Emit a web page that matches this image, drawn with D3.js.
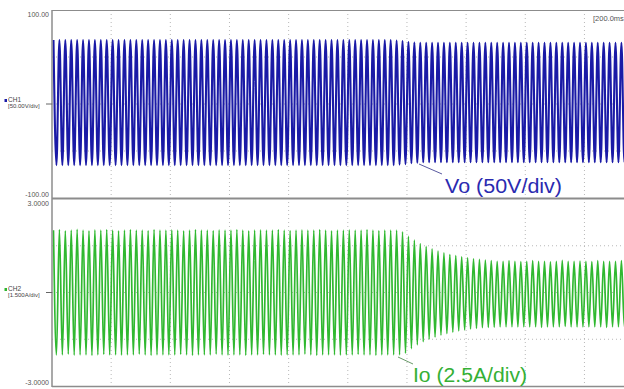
<!DOCTYPE html>
<html><head><meta charset="utf-8">
<script src="https://cdn.jsdelivr.net/npm/d3@7/dist/d3.min.js"></script>
<style>body{margin:0;background:#fff}svg{display:block;font-family:"Liberation Sans",Arial,sans-serif}</style>
</head><body><svg id="c" width="624" height="389"></svg>
<script>
// time axis: 200 ms / div, 10 divisions
const timeTicks = [0,200,400,600,800,1000,1200,1400,1600,1800,2000];
const timeLabel = "[200.0ms";
const periodMs = 20; // 50 Hz
const ch1Labels = ["100.00","-100.00"];
const ch2Labels = ["3.0000","-3.0000"];
const ch1Grid = [-50,0,50];
const ch2Grid = [-1.5,0,1.5];

// Vo peaks per cycle (V)
const voPos = [
68,68,68,68,68,68,68,68,68,68,
68,68,68,68,68,68,68,68,68,68,
68,68,68,68,68,68,68,68,68,68,
68,68,68,68,68,68,68,68,68,68,
68,68,68,68,68,68,68,68,68,68,
68,68,68,68,68,68,68,68,67.5,67,
66,65.5,65,65,65,65,65,65,65,65,
65,65,65,65,65,65,65,65,65,65,
65,65,65,65,65,65,65,65,65,65,
65,65,65,65,65,65,65,65,65,65];
const voNeg = [
-65,-65,-65,-65,-65,-65,-65,-65,-65,-65,
-65,-65,-65,-65,-65,-65,-65,-65,-65,-65,
-65,-65,-65,-65,-65,-65,-65,-65,-65,-65,
-65,-65,-65,-65,-65,-65,-65,-65,-65,-65,
-65,-65,-65,-65,-65,-65,-65,-65,-65,-65,
-65,-65,-65,-65,-65,-65,-65,-65,-64.5,-64,
-63,-62.5,-62,-62,-62,-62,-62,-62,-62,-62,
-62,-62,-62,-62,-62,-62,-62,-62,-62,-62,
-62,-62,-62,-62,-62,-62,-62,-62,-62,-62,
-62,-62,-62,-62,-62,-62,-62,-62,-62,-62];
// Io peaks per cycle (A, display scale)
const ioPos = [
2.0,2.02,1.98,2.0,2.03,2.0,1.98,2.01,2.0,2.02,
2.0,1.98,2.0,2.02,2.0,2.0,1.99,2.02,2.0,2.0,
2.01,2.0,1.98,2.0,2.02,2.0,2.0,1.99,2.01,2.0,
2.0,2.02,2.0,1.98,2.0,2.01,2.0,2.0,2.02,2.0,
1.99,2.0,2.01,2.0,2.0,2.02,2.0,1.98,2.0,2.0,
2.01,2.0,2.0,2.02,2.0,1.99,2.0,2.0,2.0,1.95,
1.8,1.68,1.57,1.48,1.40,1.33,1.27,1.22,1.18,1.14,
1.11,1.08,1.06,1.04,1.02,1.0,1.0,1.02,1.0,0.99,
1.0,1.02,1.0,1.0,0.98,1.0,1.03,1.0,1.0,1.01,
1.0,0.99,1.02,1.0,1.0,1.0,1.02,1.0,0.99,1.0];
const ioNeg = [
-2.0,-2.0,-1.98,-2.01,-2.0,-2.0,-2.02,-2.0,-1.99,-2.0,
-2.0,-2.01,-2.0,-2.0,-1.98,-2.0,-2.02,-2.0,-2.0,-2.0,
-2.0,-1.99,-2.0,-2.02,-2.0,-2.0,-2.0,-1.98,-2.0,-2.01,
-2.0,-2.0,-2.02,-2.0,-2.0,-1.99,-2.0,-2.0,-2.01,-2.0,
-2.0,-2.0,-1.98,-2.0,-2.02,-2.0,-2.0,-2.0,-2.01,-2.0,
-2.0,-1.99,-2.0,-2.0,-2.02,-2.0,-2.0,-2.0,-2.0,-1.95,
-1.8,-1.68,-1.58,-1.5,-1.43,-1.37,-1.32,-1.27,-1.23,-1.2,
-1.17,-1.15,-1.13,-1.12,-1.11,-1.1,-1.1,-1.1,-1.1,-1.1,
-1.1,-1.1,-1.12,-1.1,-1.1,-1.1,-1.09,-1.1,-1.1,-1.1,
-1.1,-1.1,-1.1,-1.12,-1.1,-1.1,-1.1,-1.1,-1.1,-1.1];

const svg = d3.select("#c");
const W = 624;
const x = d3.scaleLinear().domain([0,2000]).range([52, 643.6]);
const yV = d3.scaleLinear().domain([-100,100]).range([198,10]);
const yI = d3.scaleLinear().domain([-3,3]).range([386,199]);

const defs = svg.append("defs");
defs.append("clipPath").attr("id","cp1").append("rect").attr("x",52).attr("y",10).attr("width",W-52).attr("height",188);
defs.append("clipPath").attr("id","cp2").append("rect").attr("x",52).attr("y",199).attr("width",W-52).attr("height",187);

const gridCol = "#b8b8b8";
svg.append("g").selectAll("line").data(timeTicks.slice(1)).join("line")
  .attr("x1",d=>x(d)).attr("x2",d=>x(d)).attr("y1",10).attr("y2",386)
  .attr("stroke",gridCol).attr("stroke-width",1).attr("stroke-dasharray","1,3");
svg.append("g").selectAll("line").data(ch1Grid).join("line")
  .attr("x1",52).attr("x2",W).attr("y1",d=>yV(d)).attr("y2",d=>yV(d))
  .attr("stroke",gridCol).attr("stroke-dasharray","1,3");
svg.append("g").selectAll("line").data(ch2Grid).join("line")
  .attr("x1",52).attr("x2",W).attr("y1",d=>yI(d)).attr("y2",d=>yI(d))
  .attr("stroke",gridCol).attr("stroke-dasharray","1,3");

function pts(pos,neg){
  const p=[];
  pos.forEach((v,i)=>{p.push([(i+0.25)*periodMs,v]);p.push([(i+0.75)*periodMs,neg[i]]);});
  return p;
}
const lineV = d3.line().x(d=>x(d[0])).y(d=>yV(d[1])).curve(d3.curveMonotoneX);
const lineI = d3.line().x(d=>x(d[0])).y(d=>yI(d[1])).curve(d3.curveMonotoneX);

svg.append("path").attr("clip-path","url(#cp1)").attr("d",lineV(pts(voPos,voNeg)))
  .attr("fill","none").attr("stroke","#1a1aa6").attr("stroke-width",2.1);
svg.append("path").attr("clip-path","url(#cp2)").attr("d",lineI(pts(ioPos,ioNeg)))
  .attr("fill","none").attr("stroke","#30b830").attr("stroke-width",1.7);

const bc = "#8c8c8c";
svg.append("line").attr("x1",52).attr("x2",52).attr("y1",10).attr("y2",387).attr("stroke",bc).attr("stroke-width",1.5);
svg.append("line").attr("x1",52).attr("x2",W).attr("y1",10.5).attr("y2",10.5).attr("stroke",bc).attr("stroke-width",1.2);
svg.append("line").attr("x1",52).attr("x2",W).attr("y1",198.5).attr("y2",198.5).attr("stroke",bc).attr("stroke-width",2);
svg.append("line").attr("x1",52).attr("x2",W).attr("y1",386.5).attr("y2",386.5).attr("stroke",bc).attr("stroke-width",1.5);

const lab = (t,xx,yy,anchor,size,col)=>svg.append("text").text(t).attr("x",xx).attr("y",yy)
  .attr("text-anchor",anchor).attr("font-size",size).attr("fill",col||"#555");
lab(ch1Labels[0],49,17,"end",7);
lab(ch1Labels[1],49,197,"end",7);
lab(ch2Labels[0],49,206,"end",7);
lab(ch2Labels[1],49,385,"end",7);
lab(timeLabel,593,21,"start",7.5);

svg.append("rect").attr("x",4.5).attr("y",99).attr("width",2.5).attr("height",3).attr("fill","#1c1ca8");
lab("CH1",8,102,"start",6.5,"#444");
lab("[50.00V/div]",8,108,"start",6,"#444");
svg.append("line").attr("x1",46).attr("x2",52).attr("y1",yV(0)).attr("y2",yV(0)).attr("stroke","#666");
svg.append("rect").attr("x",4.5).attr("y",288).attr("width",2.5).attr("height",3).attr("fill","#2fb52f");
lab("CH2",8,291,"start",6.5,"#444");
lab("[1.500A/div]",8,297,"start",6,"#444");
svg.append("line").attr("x1",46).attr("x2",52).attr("y1",yI(0)).attr("y2",yI(0)).attr("stroke","#666");

svg.append("line").attr("x1",419).attr("y1",164).attr("x2",442).attr("y2",174).attr("stroke","#5a5aa0").attr("stroke-width",1);
svg.append("text").text("Vo (50V/div)").attr("x",445).attr("y",193).attr("font-size",20)
  .attr("fill","#2a2ab0").attr("textLength",117).attr("lengthAdjust","spacingAndGlyphs");
svg.append("line").attr("x1",398).attr("y1",357).attr("x2",413).attr("y2",364).attr("stroke","#6a9a6a").attr("stroke-width",1);
svg.append("text").text("Io (2.5A/div)").attr("x",413).attr("y",382).attr("font-size",20)
  .attr("fill","#35b035").attr("textLength",114).attr("lengthAdjust","spacingAndGlyphs");
</script></body></html>
